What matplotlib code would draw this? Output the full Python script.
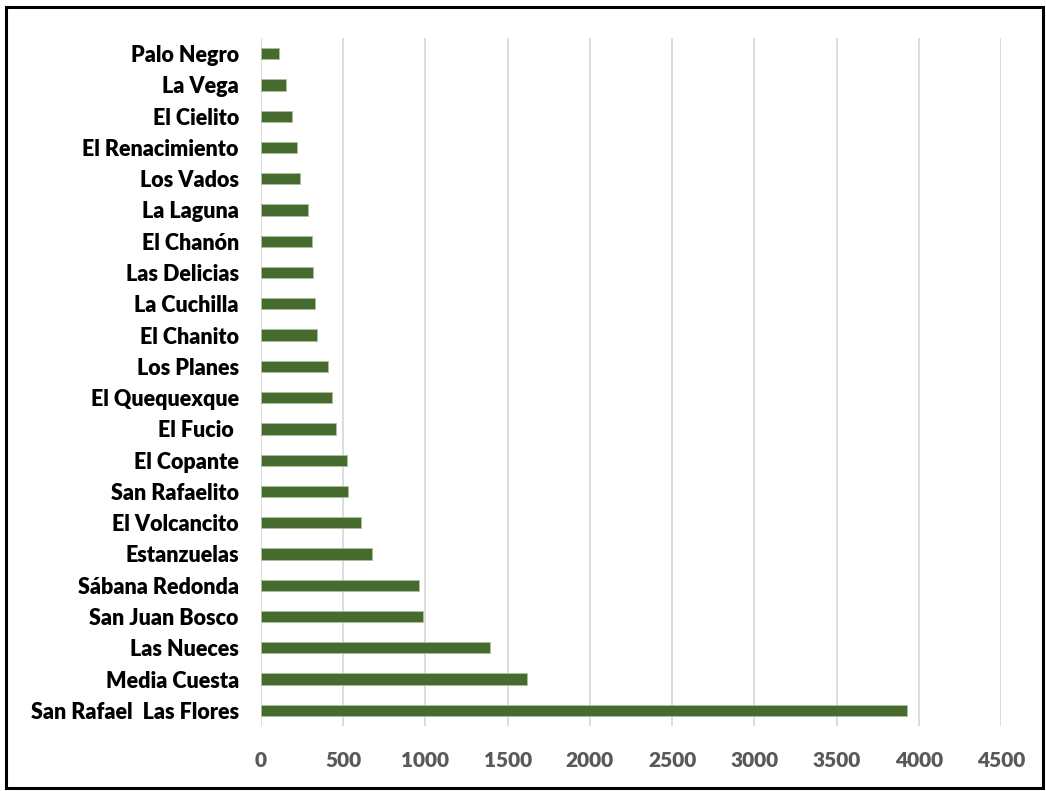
import matplotlib.pyplot as plt
from matplotlib.patches import Rectangle

communities = [
    "Palo Negro", "La Vega", "El Cielito", "El Renacimiento", "Los Vados",
    "La Laguna", "El Chanón", "Las Delicias", "La Cuchilla", "El Chanito",
    "Los Planes", "El Quequexque", "El Fucio ", "El Copante", "San Rafaelito",
    "El Volcancito", "Estanzuelas", "Sábana Redonda", "San Juan Bosco",
    "Las Nueces", "Media Cuesta", "San Rafael  Las Flores",
]
population = [
    110, 152, 188, 217, 237,
    288, 308, 318, 330, 340,
    407, 430, 454, 521, 527,
    608, 677, 959, 983,
    1393, 1616, 3928,
]
xticks = [0, 500, 1000, 1500, 2000, 2500, 3000, 3500, 4000, 4500]

plt.rcParams['font.family'] = ['Lato', 'DejaVu Sans']

fig = plt.figure(figsize=(10.46, 7.91), dpi=100)
ax = fig.add_axes([261 / 1046, 1 - 726 / 791, 740 / 1046, 688 / 791])

ypos = list(range(len(communities)))
ax.barh(ypos, population, height=0.36, color="#476a2e",
        edgecolor="#a9c39a", linewidth=0.6, zorder=3)

ax.set_ylim(len(communities) - 0.5, -0.5)
ax.set_xlim(0, 4500)
ax.set_xticks(xticks)
ax.set_xticklabels([str(t) for t in xticks], fontsize=15, fontweight="heavy",
                   color="#595959")
ax.set_yticks(ypos)
ax.set_yticklabels(communities, fontsize=15.5, fontweight="heavy", color="black")
ax.tick_params(axis="x", length=0, pad=18)
ax.tick_params(axis="y", length=0, pad=16)

ax.grid(axis="x", color="#d9d9d9", linewidth=1.3, zorder=0)
for side in ["top", "right", "bottom", "left"]:
    ax.spines[side].set_visible(False)

# outer frame
fig.patches.append(Rectangle((6 / 1046, 1 - 788 / 791), 1037 / 1046, 781 / 791,
                             transform=fig.transFigure, fill=False,
                             edgecolor="black", linewidth=2.2))

plt.savefig("out.png", dpi=100)
